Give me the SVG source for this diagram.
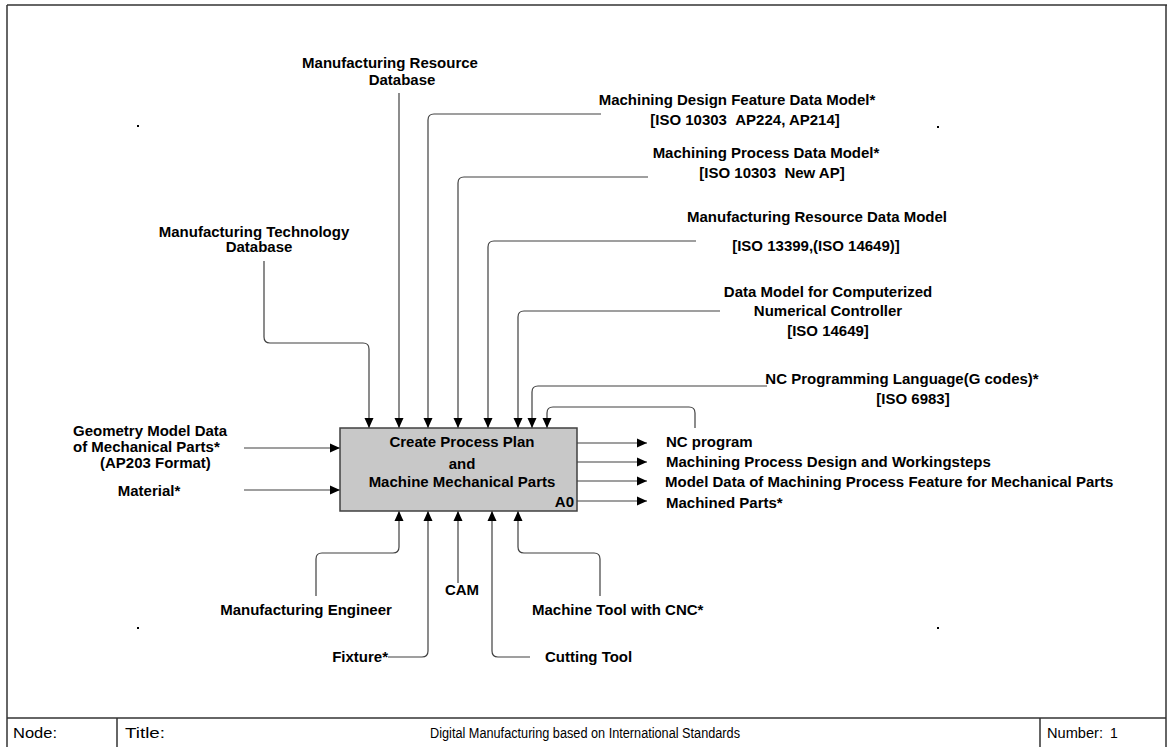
<svg xmlns="http://www.w3.org/2000/svg" width="1167" height="747" viewBox="0 0 1167 747">
<style>
.t{font-family:"Liberation Sans",Arial,sans-serif;font-weight:bold;font-size:15px;fill:#000}
.m{text-anchor:middle}
.e{text-anchor:end}
.f{font-family:"Liberation Sans",Arial,sans-serif;font-size:14px;fill:#000}
.c{fill:none;stroke:#404040;stroke-width:1.2}
.fr{fill:none;stroke:#333;stroke-width:1.5}
</style>
<defs>
<marker id="ah" markerUnits="userSpaceOnUse" markerWidth="10" markerHeight="10" refX="10" refY="5" orient="auto">
<path d="M0,0.5 L10,5 L0,9.5 z" fill="#000"/>
</marker>
</defs>
<rect width="1167" height="747" fill="#fff"/>
<g id="frame">
<line class="fr" x1="7" y1="5" x2="1167" y2="5"/>
<line class="fr" x1="7" y1="5" x2="7" y2="747"/>
<line class="fr" x1="1166" y1="5" x2="1166" y2="747"/>
<line class="fr" x1="7" y1="718" x2="1166" y2="718"/>
<line class="fr" x1="117" y1="718" x2="117" y2="747"/>
<line class="fr" x1="1040" y1="718" x2="1040" y2="747"/>
<rect x="137" y="125" width="2" height="2" fill="#000"/>
<rect x="937" y="126" width="2" height="2" fill="#000"/>
<rect x="137" y="627" width="2" height="2" fill="#000"/>
<rect x="937" y="627" width="2" height="2" fill="#000"/>
<text class="f" x="13" y="738" textLength="44" lengthAdjust="spacingAndGlyphs">Node:</text>
<text class="f" x="125" y="738" textLength="40" lengthAdjust="spacingAndGlyphs">Title:</text>
<text class="f" x="430" y="738" textLength="310" lengthAdjust="spacingAndGlyphs">Digital Manufacturing based on International Standards</text>
<text class="f" x="1047" y="738" textLength="56" lengthAdjust="spacingAndGlyphs">Number:</text>
<text class="f" x="1110" y="738">1</text>
</g>
<g id="connectors" marker-end="url(#ah)">
<path class="c" d="M264,261 V337 Q264,343 270,343 H363 Q369,343 369,349 V428"/>
<path class="c" d="M399,93 V428"/>
<path class="c" d="M601,114 H434 Q428,114 428,120 V428"/>
<path class="c" d="M648,177 H464 Q458,177 458,183 V428"/>
<path class="c" d="M696,241 H494 Q488,241 488,247 V428"/>
<path class="c" d="M720,311 H524 Q518,311 518,317 V428"/>
<path class="c" d="M767,386 H538 Q532,386 532,392 V428"/>
<path class="c" d="M695,428 V413 Q695,407 689,407 H553 Q547,407 547,413 V428"/>
<path class="c" d="M244,448 H340"/>
<path class="c" d="M244,490 H340"/>
<path class="c" d="M577,443 H647"/>
<path class="c" d="M577,462 H647"/>
<path class="c" d="M577,481 H647"/>
<path class="c" d="M577,501 H647"/>
<path class="c" d="M316,596 V559 Q316,553 322,553 H393 Q399,553 399,547 V511"/>
<path class="c" d="M388,657 H422 Q428,657 428,651 V511"/>
<path class="c" d="M458,583 V511"/>
<path class="c" d="M530,657 H498 Q492,657 492,651 V511"/>
<path class="c" d="M600,596 V559 Q600,553 594,553 H524 Q518,553 518,547 V511"/>
</g>
<g id="A0">
<rect x="340" y="428" width="237" height="83" fill="#c8c8c8" stroke="#404040" stroke-width="1.5"/>
<text class="t m" x="462" y="447">Create Process Plan</text>
<text class="t m" x="462" y="469">and</text>
<text class="t m" x="462" y="487">Machine Mechanical Parts</text>
<text class="t e" x="574" y="507">A0</text>
</g>
<g id="controls">
<text class="t m" x="390" y="68">Manufacturing Resource</text>
<text class="t m" x="402" y="85">Database</text>
<text class="t m" x="254" y="237">Manufacturing Technology</text>
<text class="t m" x="259" y="252">Database</text>
<text class="t m" x="737" y="105">Machining Design Feature Data Model*</text>
<text class="t m" x="745" y="125">[ISO 10303 &#160;AP224, AP214]</text>
<text class="t m" x="766" y="158">Machining Process Data Model*</text>
<text class="t m" x="772" y="178">[ISO 10303 &#160;New AP]</text>
<text class="t m" x="817" y="222">Manufacturing Resource Data Model</text>
<text class="t m" x="816" y="251">[ISO 13399,(ISO 14649)]</text>
<text class="t m" x="828" y="297">Data Model for Computerized</text>
<text class="t m" x="828" y="316">Numerical Controller</text>
<text class="t m" x="828" y="336">[ISO 14649]</text>
<text class="t m" x="902" y="384">NC Programming Language(G codes)*</text>
<text class="t m" x="913" y="404">[ISO 6983]</text>
</g>
<g id="inputs">
<text class="t" x="73" y="436">Geometry Model Data</text>
<text class="t" x="73" y="452">of Mechanical Parts*</text>
<text class="t" x="100" y="468">(AP203 Format)</text>
<text class="t m" x="149" y="496">Material*</text>
</g>
<g id="outputs">
<text class="t" x="666" y="447">NC program</text>
<text class="t" x="666" y="467">Machining Process Design and Workingsteps</text>
<text class="t" x="665" y="487">Model Data of Machining Process Feature for Mechanical Parts</text>
<text class="t" x="666" y="508">Machined Parts*</text>
</g>
<g id="mechanisms">
<text class="t m" x="306" y="615">Manufacturing Engineer</text>
<text class="t e" x="388" y="662">Fixture*</text>
<text class="t m" x="462" y="595">CAM</text>
<text class="t" x="545" y="662">Cutting Tool</text>
<text class="t" x="532" y="615">Machine Tool with CNC*</text>
</g>
</svg>
